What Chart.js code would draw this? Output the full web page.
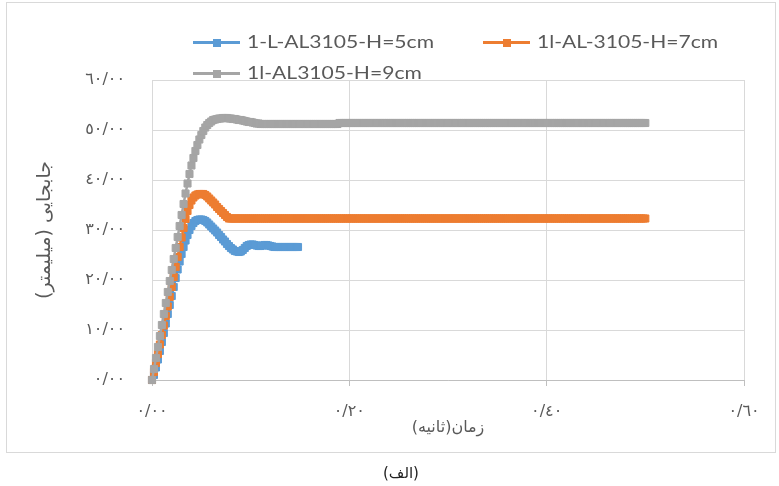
<!DOCTYPE html>
<html lang="fa">
<head>
<meta charset="utf-8">
<script src="https://cdn.jsdelivr.net/npm/chart.js@4"></script>
<style>
  body { margin: 0; width: 779px; height: 486px; background: #fff; position: relative; overflow: hidden; }
  #frame { position: absolute; left: 6px; top: 2px; width: 768px; height: 449px; border: 1px solid #d9d9d9; }
  #chart { position: absolute; left: 0; top: 0; }
  .legend-item { position: absolute; height: 20px; width: 260px; }
  .swatch { position: absolute; left: 0; top: 9px; width: 47px; height: 3px; }
  .swatch i { position: absolute; left: 20px; top: -2.5px; width: 8px; height: 8px; }
  .legend-text {
    position: absolute; left: 54px; top: 0; line-height: 20px;
    font-family: Lato, sans-serif; font-size: 17px; color: #595959; white-space: nowrap;
    transform-origin: left center; transform: scaleX(1.24);
  }
  #caption {
    position: absolute; left: 351px; top: 463px; width: 100px; text-align: center;
    font-family: "DejaVu Sans", sans-serif; font-size: 15px; line-height: 20px; color: #222;
  }
</style>
</head>
<body>
<div id="frame"></div>
<canvas id="chart" width="779" height="486"></canvas>
<div id="legend"></div>
<div id="caption" dir="rtl">(الف)</div>
<script>
// sample times in milliseconds (2 ms logging step)
const timeMs = [
  0, 2, 4, 6, 8, 10, 12, 14, 16, 18, 20, 22, 24, 26, 28, 30, 32, 34, 36, 38, 40, 42, 44, 46, 48,
  50, 52, 54, 56, 58, 60, 62, 64, 66, 68, 70, 72, 74, 76, 78, 80, 82, 84, 86, 88, 90, 92, 94, 96, 98,
  100, 102, 104, 106, 108, 110, 112, 114, 116, 118, 120, 122, 124, 126, 128, 130, 132, 134, 136, 138, 140, 142, 144, 146, 148,
  150, 152, 154, 156, 158, 160, 162, 164, 166, 168, 170, 172, 174, 176, 178, 180, 182, 184, 186, 188, 190, 192, 194, 196, 198,
  200, 202, 204, 206, 208, 210, 212, 214, 216, 218, 220, 222, 224, 226, 228, 230, 232, 234, 236, 238, 240, 242, 244, 246, 248,
  250, 252, 254, 256, 258, 260, 262, 264, 266, 268, 270, 272, 274, 276, 278, 280, 282, 284, 286, 288, 290, 292, 294, 296, 298,
  300, 302, 304, 306, 308, 310, 312, 314, 316, 318, 320, 322, 324, 326, 328, 330, 332, 334, 336, 338, 340, 342, 344, 346, 348,
  350, 352, 354, 356, 358, 360, 362, 364, 366, 368, 370, 372, 374, 376, 378, 380, 382, 384, 386, 388, 390, 392, 394, 396, 398,
  400, 402, 404, 406, 408, 410, 412, 414, 416, 418, 420, 422, 424, 426, 428, 430, 432, 434, 436, 438, 440, 442, 444, 446, 448,
  450, 452, 454, 456, 458, 460, 462, 464, 466, 468, 470, 472, 474, 476, 478, 480, 482, 484, 486, 488, 490, 492, 494, 496, 498,
  500
];

// displacement (mm), H = 5 cm
const blueValues = [
  0, 1.0, 2.5, 4.1, 5.8, 7.6, 9.4, 11.3, 13.2, 15.0, 16.8, 18.6, 20.4, 22.1, 23.7, 25.2, 26.6, 27.9, 29.0, 30.0,
  30.8, 31.4, 31.8, 32.0, 32.1, 32.1, 32.0, 31.8, 31.5, 31.1, 30.7, 30.3, 29.9, 29.5, 29.0, 28.6, 28.1, 27.7, 27.2, 26.8,
  26.4, 26.1, 25.8, 25.7, 25.6, 25.7, 26.0, 26.4, 26.8, 27.0, 27.1, 27.1, 27.0, 26.9, 26.8, 26.8, 26.9, 27.0, 27.0, 26.9,
  26.8, 26.7, 26.6, 26.6, 26.6, 26.6, 26.6, 26.6, 26.6, 26.6, 26.6, 26.6, 26.6, 26.6, 26.6
];

// displacement (mm), H = 7 cm
const orangeValues = [
  0, 1.6, 3.4, 5.2, 7.1, 9.0, 10.9, 12.8, 14.7, 16.6, 18.6, 20.6, 22.6, 24.6, 26.6, 28.5, 30.4, 32.2, 33.8, 35.0,
  35.9, 36.5, 36.9, 37.1, 37.2, 37.2, 37.2, 37.0, 36.7, 36.3, 35.9, 35.5, 35.1, 34.6, 34.2, 33.8, 33.4, 33.0, 32.6, 32.3,
  32.3, 32.3, 32.3, 32.3, 32.3, 32.3, 32.3, 32.3, 32.3, 32.3, 32.3, 32.3, 32.3, 32.3, 32.3, 32.3, 32.3, 32.3, 32.3, 32.3,
  32.3, 32.3, 32.3, 32.3, 32.3, 32.3, 32.3, 32.3, 32.3, 32.3, 32.3, 32.3, 32.3, 32.3, 32.3, 32.3, 32.3, 32.3, 32.3, 32.3,
  32.3, 32.3, 32.3, 32.3, 32.3, 32.3, 32.3, 32.3, 32.3, 32.3, 32.3, 32.3, 32.3, 32.3, 32.3, 32.3, 32.3, 32.3, 32.3, 32.3,
  32.3, 32.3, 32.3, 32.3, 32.3, 32.3, 32.3, 32.3, 32.3, 32.3, 32.3, 32.3, 32.3, 32.3, 32.3, 32.3, 32.3, 32.3, 32.3, 32.3,
  32.3, 32.3, 32.3, 32.3, 32.3, 32.3, 32.3, 32.3, 32.3, 32.3, 32.3, 32.3, 32.3, 32.3, 32.3, 32.3, 32.3, 32.3, 32.3, 32.3,
  32.3, 32.3, 32.3, 32.3, 32.3, 32.3, 32.3, 32.3, 32.3, 32.3, 32.3, 32.3, 32.3, 32.3, 32.3, 32.3, 32.3, 32.3, 32.3, 32.3,
  32.3, 32.3, 32.3, 32.3, 32.3, 32.3, 32.3, 32.3, 32.3, 32.3, 32.3, 32.3, 32.3, 32.3, 32.3, 32.3, 32.3, 32.3, 32.3, 32.3,
  32.3, 32.3, 32.3, 32.3, 32.3, 32.3, 32.3, 32.3, 32.3, 32.3, 32.3, 32.3, 32.3, 32.3, 32.3, 32.3, 32.3, 32.3, 32.3, 32.3,
  32.3, 32.3, 32.3, 32.3, 32.3, 32.3, 32.3, 32.3, 32.3, 32.3, 32.3, 32.3, 32.3, 32.3, 32.3, 32.3, 32.3, 32.3, 32.3, 32.3,
  32.3, 32.3, 32.3, 32.3, 32.3, 32.3, 32.3, 32.3, 32.3, 32.3, 32.3, 32.3, 32.3, 32.3, 32.3, 32.3, 32.3, 32.3, 32.3, 32.3,
  32.3, 32.3, 32.3, 32.3, 32.3, 32.3, 32.3, 32.3, 32.3, 32.3, 32.3
];

// displacement (mm), H = 9 cm
const grayValues = [
  0, 2.2, 4.4, 6.6, 8.8, 11.0, 13.2, 15.4, 17.6, 19.8, 22.0, 24.2, 26.4, 28.6, 30.8, 33.0, 35.2, 37.3, 39.3, 41.2,
  42.9, 44.4, 45.8, 47.0, 48.1, 49.0, 49.8, 50.5, 51.0, 51.4, 51.7, 52.0, 52.1, 52.2, 52.3, 52.3, 52.4, 52.4, 52.4, 52.3,
  52.3, 52.2, 52.2, 52.1, 52.0, 52.0, 51.9, 51.8, 51.7, 51.6, 51.6, 51.5, 51.4, 51.3, 51.3, 51.2,
  51.2, 51.2, 51.2, 51.2, 51.2, 51.2, 51.2, 51.2, 51.2, 51.2, 51.2, 51.2, 51.2, 51.2, 51.2, 51.2, 51.2, 51.2, 51.2, 51.2,
  51.2, 51.2, 51.2, 51.2, 51.2, 51.2, 51.2, 51.2, 51.2, 51.2, 51.2, 51.2, 51.2, 51.2, 51.2, 51.2, 51.2, 51.2, 51.2,
  51.4, 51.4, 51.4, 51.4, 51.4, 51.4, 51.4, 51.4, 51.4, 51.4, 51.4, 51.4, 51.4, 51.4, 51.4, 51.4, 51.4, 51.4, 51.4, 51.4,
  51.4, 51.4, 51.4, 51.4, 51.4, 51.4, 51.4, 51.4, 51.4, 51.4, 51.4, 51.4, 51.4, 51.4, 51.4, 51.4, 51.4, 51.4, 51.4, 51.4,
  51.4, 51.4, 51.4, 51.4, 51.4, 51.4, 51.4, 51.4, 51.4, 51.4, 51.4, 51.4, 51.4, 51.4, 51.4, 51.4, 51.4, 51.4, 51.4, 51.4,
  51.4, 51.4, 51.4, 51.4, 51.4, 51.4, 51.4, 51.4, 51.4, 51.4, 51.4, 51.4, 51.4, 51.4, 51.4, 51.4, 51.4, 51.4, 51.4, 51.4,
  51.4, 51.4, 51.4, 51.4, 51.4, 51.4, 51.4, 51.4, 51.4, 51.4, 51.4, 51.4, 51.4, 51.4, 51.4, 51.4, 51.4, 51.4, 51.4, 51.4,
  51.4, 51.4, 51.4, 51.4, 51.4, 51.4, 51.4, 51.4, 51.4, 51.4, 51.4, 51.4, 51.4, 51.4, 51.4, 51.4, 51.4, 51.4, 51.4, 51.4,
  51.4, 51.4, 51.4, 51.4, 51.4, 51.4, 51.4, 51.4, 51.4, 51.4, 51.4, 51.4, 51.4, 51.4, 51.4, 51.4, 51.4, 51.4, 51.4, 51.4,
  51.4, 51.4, 51.4, 51.4, 51.4, 51.4, 51.4, 51.4, 51.4, 51.4, 51.4, 51.4, 51.4, 51.4, 51.4, 51.4
];

const seriesNames = ["1-L-AL3105-H=5cm", "1l-AL-3105-H=7cm", "1l-AL3105-H=9cm"];
const seriesColors = ["#5B9BD5", "#ED7D31", "#A5A5A5"];
const xTickLabels = ["٠/٠٠", "٠/٢٠", "٠/٤٠", "٠/٦٠"];
const yTickLabels = ["٠/٠٠", "١٠/٠٠", "٢٠/٠٠", "٣٠/٠٠", "٤٠/٠٠", "٥٠/٠٠", "٦٠/٠٠"];
const xTitle = "زمان(ثانیه)";
const yTitle = "جابجایی (میلیمتر)";

const arabicFont = "'DejaVu Sans', sans-serif";

function toPoints(values) {
  return values.map((v, i) => ({ x: timeMs[i] / 1000, y: v }));
}

function makeDataset(index, values) {
  const color = seriesColors[index];
  return {
    label: seriesNames[index],
    data: toPoints(values),
    borderColor: color,
    backgroundColor: color,
    borderWidth: 2.5,
    pointStyle: "rect",
    pointRadius: 5,
    pointBorderWidth: 1,
    pointBorderColor: color,
    pointBackgroundColor: color,
    clip: false,
    order: 3 - index, // later series on top
  };
}

// legend: two rows, second row lined up under the first item
const legendSlots = [
  { left: 193, top: 32 },
  { left: 483, top: 32 },
  { left: 193, top: 63 },
];
const legendDiv = document.getElementById("legend");
seriesNames.forEach((name, i) => {
  const item = document.createElement("div");
  item.className = "legend-item";
  item.style.left = legendSlots[i].left + "px";
  item.style.top = legendSlots[i].top + "px";
  item.innerHTML =
    '<span class="swatch" style="background:' + seriesColors[i] + '"><i style="background:' +
    seriesColors[i] + '"></i></span><span class="legend-text">' + name + "</span>";
  legendDiv.appendChild(item);
});

new Chart(document.getElementById("chart"), {
  type: "line",
  data: {
    datasets: [
      makeDataset(0, blueValues),
      makeDataset(1, orangeValues),
      makeDataset(2, grayValues),
    ],
  },
  options: {
    responsive: false,
    animation: false,
    devicePixelRatio: 1,
    layout: { padding: { left: 20, right: 35, top: 80, bottom: 40 } },
    plugins: {
      legend: { display: false },
      tooltip: { enabled: false },
    },
    scales: {
      x: {
        type: "linear",
        min: 0,
        max: 0.6,
        ticks: {
          stepSize: 0.2,
          padding: 16,
          maxRotation: 0,
          autoSkip: false,
          color: "#595959",
          font: { family: arabicFont, size: 16 },
          callback: (value, index) => xTickLabels[index],
        },
        grid: { color: "#d9d9d9", tickColor: "#bfbfbf", tickLength: 6 },
        border: { color: "#bfbfbf" },
        title: {
          display: true,
          text: xTitle + "\u200F",
          color: "#595959",
          font: { family: arabicFont, size: 16 },
          padding: { top: 0, bottom: 9 },
        },
        afterFit: (scale) => {
          scale.height = 66;
        },
      },
      y: {
        min: 0,
        max: 60,
        ticks: {
          stepSize: 10,
          padding: 27,
          color: "#595959",
          font: { family: arabicFont, size: 16 },
          callback: (value, index) => yTickLabels[index],
        },
        grid: { color: "#d9d9d9", drawTicks: false },
        border: { display: false },
        title: {
          display: true,
          text: yTitle + "\u200F",
          color: "#595959",
          font: { family: arabicFont, size: 19 },
          padding: { top: 14, bottom: 0 },
        },
        afterFit: (scale) => {
          scale.width = 132;
        },
      },
    },
  },
});
</script>
</body>
</html>
